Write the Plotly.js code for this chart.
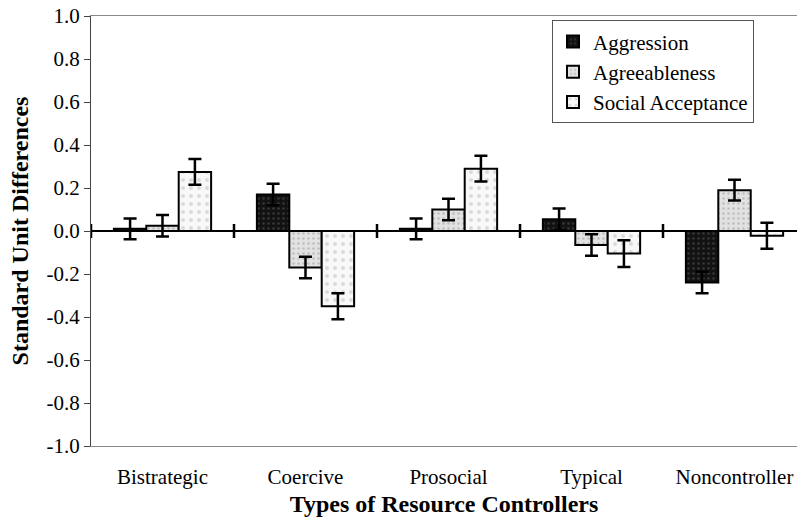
<!DOCTYPE html>
<html>
<head>
<meta charset="utf-8">
<script src="https://cdn.plot.ly/plotly-3.0.1.min.js"></script>
<style>html,body{margin:0;padding:0;background:#fff;}#chart{width:798px;height:517px;}</style>
</head>
<body>
<div id="chart"></div>
<script>
const categories = ['Bistrategic', 'Coercive', 'Prosocial', 'Typical', 'Noncontroller'];
const aggression = [0.01, 0.17, 0.01, 0.055, -0.24];
const aggressionErr = [0.048, 0.05, 0.048, 0.05, 0.05];
const agreeableness = [0.025, -0.17, 0.10, -0.065, 0.19];
const agreeablenessErr = [0.05, 0.05, 0.05, 0.05, 0.048];
const socialAcceptance = [0.275, -0.35, 0.29, -0.105, -0.022];
const socialAcceptanceErr = [0.06, 0.06, 0.06, 0.062, 0.06];
const yTickVals = [-1.0, -0.8, -0.6, -0.4, -0.2, 0.0, 0.2, 0.4, 0.6, 0.8, 1.0];
const yTickLabels = yTickVals.map(v => v.toFixed(1));

const FONT = 'Liberation Serif';

function barTrace(name, y, err, bg, fg, psize) {
  return {
    type: 'bar', name: name, x: categories, y: y,
    marker: {
      color: bg,
      line: {color: '#000', width: 2},
      pattern: {shape: '.', fillmode: 'overlay', fgcolor: fg, size: psize, solidity: 0.2}
    },
    error_y: {type: 'data', array: err, visible: true, color: '#000', thickness: 2.5, width: 6.5}
  };
}

const data = [
  barTrace('Aggression', aggression, aggressionErr, '#121212', '#5a5a5a', 5),
  barTrace('Agreeableness', agreeableness, agreeablenessErr, '#e2e2e2', '#9a9a9a', 5),
  barTrace('Social Acceptance', socialAcceptance, socialAcceptanceErr, '#f8f8f8', '#bcbcbc', 8)
];

const boundaryShapes = categories.map((c, i) => ({
  type: 'line', xref: 'x', yref: 'y',
  x0: i - 0.5, x1: i - 0.5,
  ysizemode: 'pixel', yanchor: 0, y0: -7, y1: 7,
  line: {color: '#000', width: 2.5}
}));

const layout = {
  width: 798, height: 517,
  margin: {l: 91, r: 1, t: 16, b: 71},
  paper_bgcolor: '#fff', plot_bgcolor: '#fff',
  font: {family: FONT, size: 21, color: '#000'},
  barmode: 'group', bargap: 0.32, bargroupgap: 0,
  showlegend: true,
  legend: {
    x: 0.653, y: 0.99, xanchor: 'left', yanchor: 'top',
    bgcolor: '#fff', bordercolor: '#555', borderwidth: 1,
    font: {family: FONT, size: 21, color: '#000'},
    traceorder: 'normal'
  },
  xaxis: {
    type: 'category', range: [-0.5, 4.437],
    showline: true, mirror: true, linecolor: '#888', linewidth: 1,
    ticks: '', showgrid: false, zeroline: false,
    ticklabelstandoff: 12,
    tickfont: {family: FONT, size: 21, color: '#000'},
    title: {text: '<b>Types of Resource Controllers</b>', font: {family: FONT, size: 24, color: '#000'}, standoff: 7}
  },
  yaxis: {
    range: [-1, 1], tickvals: yTickVals, ticktext: yTickLabels,
    showline: true, linecolor: '#444', linewidth: 1,
    ticks: 'outside', ticklen: 6, tickcolor: '#444', tickwidth: 1,
    showgrid: false,
    zeroline: true, zerolinecolor: '#000', zerolinewidth: 2.5,
    tickfont: {family: FONT, size: 21, color: '#000'},
    title: {text: '<b>Standard Unit Differences</b>', font: {family: FONT, size: 24, color: '#000'}, standoff: 11}
  },
  shapes: boundaryShapes
};

Plotly.newPlot('chart', data, layout, {displayModeBar: false, staticPlot: true});
</script>
</body>
</html>
